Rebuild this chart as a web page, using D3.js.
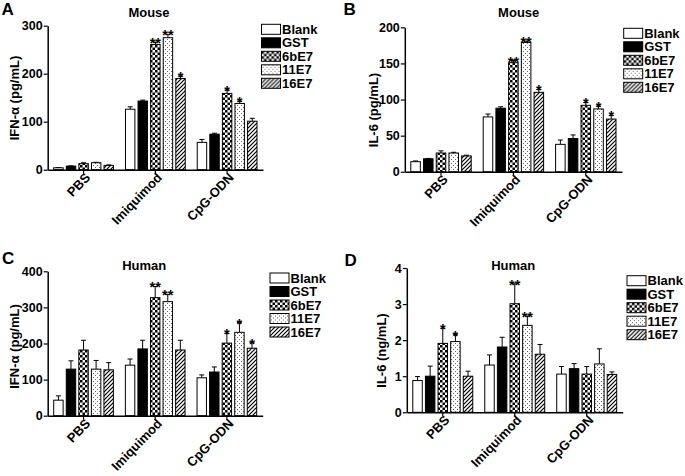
<!DOCTYPE html>
<html><head><meta charset="utf-8">
<script src="https://cdn.jsdelivr.net/npm/d3@7/dist/d3.min.js"></script>
<style>
body{margin:0;background:#fff;}
text{font-family:"Liberation Sans",Arial,sans-serif;font-weight:bold;fill:#000;}
</style></head>
<body><svg id="c" width="685" height="476"></svg>
<script>
const categories = ["PBS", "Imiquimod", "CpG-ODN"];
const seriesNames = ["Blank", "GST", "6bE7", "11E7", "16E7"];

// Panel A: Mouse IFN-alpha (pg/mL); rows = series, cols = categories
const mouseIfnValues = [[4, 126, 57], [7.5, 143, 74], [12.5, 261, 159], [14.5, 275, 138], [9, 190, 101]];
const mouseIfnErrors = [[0.5, 5, 6], [0.5, 2, 2], [2, 5, 7], [1, 7, 5], [1, 5, 6]];
const mouseIfnStars = [["", "", ""], ["", "", ""], ["", "**", "*"], ["", "**", "*"], ["", "*", ""]];
const mouseIfnTicks = [0, 100, 200, 300];

// Panel B: Mouse IL-6 (pg/mL)
const mouseIl6Values = [[14, 76, 38], [18, 88, 46], [26, 151, 92], [26, 179, 87], [22, 110, 73]];
const mouseIl6Errors = [[1, 4, 6], [0.5, 2, 5], [3, 3, 4], [1, 2, 4], [1, 4, 5]];
const mouseIl6Stars = [["", "", ""], ["", "", ""], ["", "**", "*"], ["", "**", "*"], ["", "*", "*"]];
const mouseIl6Ticks = [0, 50, 100, 150, 200];

// Panel C: Human IFN-alpha (pg/mL)
const humanIfnValues = [[43, 140, 105], [129, 185, 121], [182, 327, 201], [129, 316, 231], [127, 182, 187]];
const humanIfnErrors = [[12, 17, 8], [23, 24, 14], [27, 31, 27], [24, 20, 27], [20, 27, 15]];
const humanIfnStars = [["", "", ""], ["", "", ""], ["", "**", "*"], ["", "**", "*"], ["", "", "*"]];
const humanIfnTicks = [0, 100, 200, 300, 400];

// Panel D: Human IL-6 (ng/mL)
const humanIl6Values = [[0.88, 1.31, 1.06], [1.0, 1.81, 1.21], [1.91, 3.01, 1.06], [1.96, 2.41, 1.34], [1.0, 1.61, 1.05]];
const humanIl6Errors = [[0.11, 0.28, 0.21], [0.28, 0.27, 0.14], [0.42, 0.55, 0.21], [0.19, 0.26, 0.42], [0.14, 0.27, 0.07]];
const humanIl6Stars = [["", "", ""], ["", "", ""], ["*", "**", ""], ["*", "**", ""], ["", "", ""]];
const humanIl6Ticks = [0, 1, 2, 3, 4];

const FONT = "'Liberation Sans', Arial, sans-serif";
const svg = d3.select("#c");
const defs = svg.append("defs");
const chk = defs.append("pattern").attr("id", "chk").attr("patternUnits", "userSpaceOnUse").attr("width", 5).attr("height", 5);
chk.append("rect").attr("width", 5).attr("height", 5).attr("fill", "#fff");
chk.append("rect").attr("width", 2.5).attr("height", 2.5).attr("fill", "#000");
chk.append("rect").attr("x", 2.5).attr("y", 2.5).attr("width", 2.5).attr("height", 2.5).attr("fill", "#000");
const dots = defs.append("pattern").attr("id", "dots").attr("patternUnits", "userSpaceOnUse").attr("width", 4).attr("height", 4);
dots.append("rect").attr("width", 4).attr("height", 4).attr("fill", "#fff");
dots.append("rect").attr("x", 1).attr("y", 1).attr("width", 1).attr("height", 1).attr("fill", "#666");
dots.append("rect").attr("x", 3).attr("y", 3).attr("width", 1).attr("height", 1).attr("fill", "#666");
const hatch = defs.append("pattern").attr("id", "hatch").attr("patternUnits", "userSpaceOnUse").attr("width", 4).attr("height", 4);
hatch.append("rect").attr("width", 4).attr("height", 4).attr("fill", "#fff");
hatch.append("path").attr("d", "M-1,1 l2,-2 M0,4 l4,-4 M3,5 l2,-2").attr("stroke", "#000").attr("stroke-width", 1.2);

const fills = ["#fff", "#000", "url(#chk)", "url(#dots)", "url(#hatch)"];

function panel(cfg) {
  const { values, errors, stars, ticks, x0, x1, yTop, yBot, title, titleX, titleY, yLabel, yLabelX, yLabelY, letter, letterX, letterY, legX, legY } = cfg;
  const g = svg.append("g");
  const x = d3.scaleBand().domain(categories).range([x0, x1]).padding(0);
  const xs = d3.scaleBand().domain(seriesNames).range([6, x.bandwidth() - 6]).paddingInner(0.25);
  const y = d3.scaleLinear().domain([0, ticks[ticks.length - 1]]).range([yBot, yTop]);

  seriesNames.forEach((s, si) => {
    categories.forEach((c, ci) => {
      const v = values[si][ci], e = errors[si][ci];
      const bx = x(c) + xs(s), bw = xs.bandwidth();
      const cx = bx + bw / 2;
      g.append("line").attr("x1", cx).attr("x2", cx).attr("y1", y(v)).attr("y2", y(v + e)).attr("stroke", "#000").attr("stroke-width", 1);
      g.append("line").attr("x1", cx - 2.5).attr("x2", cx + 2.5).attr("y1", y(v + e)).attr("y2", y(v + e)).attr("stroke", "#000").attr("stroke-width", 1);
      g.append("rect").attr("x", bx).attr("y", y(v)).attr("width", bw).attr("height", y(0) - y(v))
        .attr("fill", fills[si]).attr("stroke", "#000").attr("stroke-width", 1);
      const st = stars[si][ci];
      if (st) {
        g.append("text").attr("x", cx).attr("y", y(v + e) + 6).attr("text-anchor", "middle")
          .attr("font-size", 14.5).style("font-weight", "bold").text(st);
      }
    });
  });

  const yAxis = g.append("g").attr("transform", `translate(${x0},0)`)
    .call(d3.axisLeft(y).tickValues(ticks).tickFormat(d3.format("d")).tickSize(4).tickSizeOuter(0).tickPadding(1));
  yAxis.attr("font-size", null).attr("font-family", null);
  yAxis.select(".domain").attr("stroke-width", 1.5);
  yAxis.selectAll(".tick line").attr("stroke-width", 1.2);
  yAxis.selectAll("text").attr("font-size", 12.5).style("font-size", "12.5px").style("font-family", FONT).style("font-weight", "bold");

  const xAxis = g.append("g").attr("transform", `translate(0,${yBot})`)
    .call(d3.axisBottom(x).tickSize(4).tickSizeOuter(0));
  xAxis.attr("font-size", null).attr("font-family", null);
  xAxis.select(".domain").attr("stroke-width", 1.5);
  xAxis.selectAll(".tick line").attr("stroke-width", 1.2);
  xAxis.selectAll("text").attr("y", null).attr("dy", null).attr("text-anchor", "end")
    .attr("transform", "translate(7.5,8.5) rotate(-46)")
    .attr("font-size", 13).style("font-size", "13px").style("font-family", FONT).style("font-weight", "bold");

  svg.append("text").attr("x", titleX).attr("y", titleY).attr("text-anchor", "middle").style("font-size", "13px").text(title);
  svg.append("text").attr("x", letterX).attr("y", letterY).style("font-size", "17px").text(letter);
  svg.append("text").attr("transform", `translate(${yLabelX},${yLabelY}) rotate(-90)`).attr("text-anchor", "middle")
    .attr("dy", "0.35em").style("font-size", "13px").text(yLabel);

  const leg = svg.append("g").attr("transform", `translate(${legX},${legY})`);
  seriesNames.forEach((s, si) => {
    const r = leg.append("g").attr("transform", `translate(0,${si * 13.5})`);
    r.append("rect").attr("x", 0).attr("y", -5).attr("width", 19).attr("height", 10).attr("fill", fills[si]).attr("stroke", "#000").attr("stroke-width", 1);
    r.append("text").attr("x", 20.5).attr("y", 0).attr("dy", "0.36em").style("font-size", "13px").text(s);
  });
}

panel({ values: mouseIfnValues, errors: mouseIfnErrors, stars: mouseIfnStars, ticks: mouseIfnTicks,
  x0: 47.7, x1: 263, yTop: 25.7, yBot: 169.7, title: "Mouse", titleX: 149, titleY: 16.7,
  yLabel: "IFN-α (pg/mL)", yLabelX: 14, yLabelY: 98, letter: "A", letterX: 1.5, letterY: 15.2, legX: 261.5, legY: 29.3 });
panel({ values: mouseIl6Values, errors: mouseIl6Errors, stars: mouseIl6Stars, ticks: mouseIl6Ticks,
  x0: 404.8, x1: 622, yTop: 27.3, yBot: 171.8, title: "Mouse", titleX: 518.7, titleY: 16.7,
  yLabel: "IL-6 (pg/mL)", yLabelX: 373, yLabelY: 110, letter: "B", letterX: 343.5, letterY: 15.2, legX: 623.7, legY: 33.3 });
panel({ values: humanIfnValues, errors: humanIfnErrors, stars: humanIfnStars, ticks: humanIfnTicks,
  x0: 47.7, x1: 262.7, yTop: 271.3, yBot: 415.7, title: "Human", titleX: 144.2, titleY: 269.7,
  yLabel: "IFN-α (pg/mL)", yLabelX: 14, yLabelY: 346.5, letter: "C", letterX: 2, letterY: 263.8, legX: 270, legY: 278 });
panel({ values: humanIl6Values, errors: humanIl6Errors, stars: humanIl6Stars, ticks: humanIl6Ticks,
  x0: 406.8, x1: 622.7, yTop: 268, yBot: 412.3, title: "Human", titleX: 513.2, titleY: 270.3,
  yLabel: "IL-6 (ng/mL)", yLabelX: 381, yLabelY: 350.5, letter: "D", letterX: 344.5, letterY: 266.4, legX: 627, legY: 280.7 });
</script></body></html>
